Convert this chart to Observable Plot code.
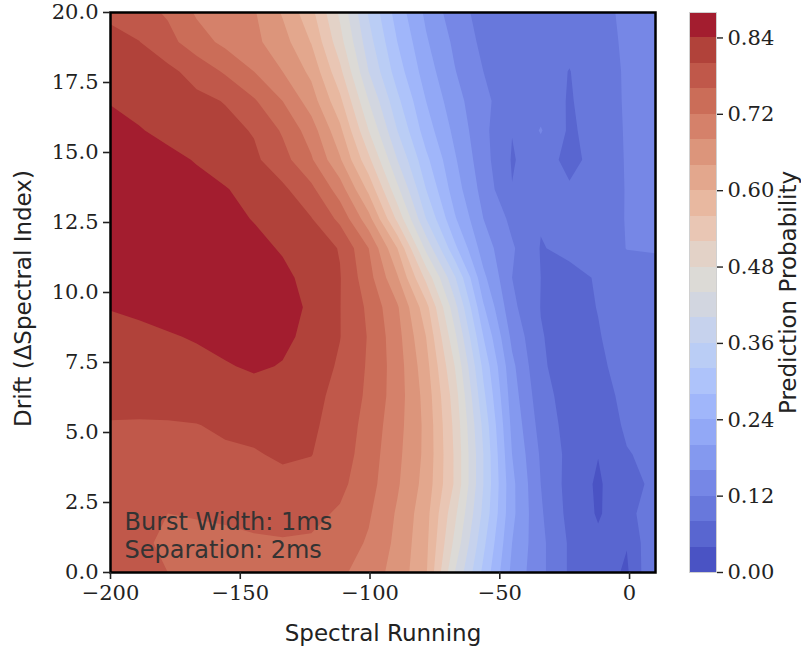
<!DOCTYPE html>
<html>
<head>
<meta charset="utf-8">
<script src="https://cdn.jsdelivr.net/npm/d3@7"></script>
<script src="https://cdn.jsdelivr.net/npm/@observablehq/plot@0.6"></script>
<style>
  html, body { margin: 0; padding: 0; background: #ffffff; }
  #wrap { position: relative; width: 801px; height: 650px; overflow: hidden; background: #fff; }
  #main { position: absolute; left: 0; top: 0; }
  #cbar { position: absolute; left: 670px; top: 0; }
</style>
</head>
<body>
<div id="wrap"><div id="main"></div><div id="cbar"></div></div>
<script>
// ---- grid axes (Spectral Running, Drift) ----
const spectralRunning = [-200, -188.95, -177.89, -166.84, -155.79, -144.74, -133.68, -122.63, -111.58, -100.53,
  -89.47, -78.42, -67.37, -56.32, -45.26, -34.21, -23.16, -12.11, -1.05, 10];
const drift = [0, 1.05, 2.11, 3.16, 4.21, 5.26, 6.32, 7.37, 8.42, 9.47,
  10.53, 11.58, 12.63, 13.68, 14.74, 15.79, 16.84, 17.89, 18.95, 20];

// ---- prediction probability, one row per drift value (bottom row first) ----
const prob = [
  [0.775,0.770,0.760,0.745,0.740,0.742,0.745,0.740,0.728,0.700,0.665,0.605,0.440,0.310,0.190,0.130,0.075,0.060,0.034,0.125],
  [0.772,0.765,0.755,0.752,0.752,0.755,0.757,0.755,0.742,0.715,0.670,0.610,0.470,0.330,0.200,0.130,0.075,0.048,0.042,0.120],
  [0.770,0.765,0.760,0.762,0.765,0.770,0.772,0.770,0.755,0.725,0.675,0.615,0.490,0.350,0.210,0.125,0.068,0.036,0.065,0.110],
  [0.775,0.772,0.772,0.775,0.780,0.785,0.790,0.785,0.770,0.735,0.685,0.625,0.515,0.360,0.210,0.120,0.065,0.034,0.072,0.085],
  [0.785,0.785,0.787,0.790,0.795,0.797,0.805,0.801,0.780,0.740,0.690,0.630,0.515,0.360,0.200,0.115,0.068,0.041,0.078,0.088],
  [0.798,0.797,0.797,0.799,0.805,0.810,0.813,0.806,0.785,0.745,0.695,0.630,0.510,0.350,0.190,0.105,0.065,0.060,0.085,0.092],
  [0.810,0.812,0.815,0.818,0.822,0.825,0.822,0.810,0.790,0.752,0.700,0.625,0.500,0.330,0.180,0.095,0.063,0.068,0.088,0.095],
  [0.815,0.818,0.822,0.830,0.837,0.845,0.838,0.820,0.795,0.755,0.700,0.615,0.480,0.310,0.170,0.085,0.064,0.074,0.092,0.098],
  [0.825,0.830,0.837,0.843,0.852,0.858,0.848,0.830,0.801,0.757,0.695,0.600,0.450,0.280,0.150,0.082,0.066,0.078,0.095,0.100],
  [0.842,0.848,0.853,0.858,0.862,0.862,0.852,0.835,0.801,0.752,0.685,0.575,0.415,0.245,0.130,0.079,0.068,0.081,0.098,0.103],
  [0.875,0.875,0.874,0.872,0.868,0.862,0.850,0.826,0.802,0.735,0.645,0.510,0.365,0.210,0.120,0.080,0.070,0.083,0.100,0.105],
  [0.875,0.873,0.870,0.866,0.860,0.852,0.836,0.818,0.798,0.720,0.600,0.430,0.290,0.180,0.125,0.078,0.088,0.098,0.121,0.123],
  [0.873,0.870,0.865,0.860,0.852,0.838,0.822,0.802,0.750,0.655,0.510,0.360,0.245,0.160,0.110,0.083,0.092,0.100,0.122,0.125],
  [0.870,0.865,0.858,0.850,0.842,0.828,0.808,0.770,0.700,0.590,0.450,0.320,0.220,0.145,0.081,0.100,0.085,0.098,0.122,0.127],
  [0.862,0.857,0.848,0.838,0.825,0.808,0.775,0.725,0.645,0.530,0.400,0.290,0.205,0.135,0.077,0.100,0.068,0.095,0.123,0.128],
  [0.852,0.842,0.832,0.822,0.812,0.797,0.755,0.700,0.610,0.480,0.360,0.260,0.190,0.130,0.081,0.123,0.074,0.095,0.124,0.130],
  [0.838,0.830,0.820,0.810,0.798,0.765,0.720,0.660,0.570,0.440,0.330,0.240,0.175,0.130,0.095,0.100,0.077,0.097,0.125,0.130],
  [0.830,0.820,0.810,0.785,0.755,0.720,0.680,0.630,0.530,0.400,0.300,0.220,0.162,0.120,0.100,0.095,0.079,0.100,0.125,0.130],
  [0.815,0.801,0.773,0.738,0.710,0.690,0.656,0.598,0.495,0.376,0.280,0.205,0.152,0.110,0.100,0.098,0.088,0.103,0.127,0.133],
  [0.790,0.775,0.755,0.715,0.700,0.684,0.636,0.572,0.472,0.356,0.262,0.192,0.138,0.105,0.100,0.100,0.098,0.105,0.130,0.135]
];

// ---- contour levels / colorbar edges and tick labels ----
const levels = [0.00,0.04,0.08,0.12,0.16,0.20,0.24,0.28,0.32,0.36,0.40,0.44,0.48,0.52,0.56,0.60,0.64,0.68,0.72,0.76,0.80,0.84,0.88];
const cbTicks = [0.00,0.12,0.24,0.36,0.48,0.60,0.72,0.84];
const xTicks = [-200,-150,-100,-50,0];
const yTicks = [0,2.5,5,7.5,10,12.5,15,17.5,20];
const annotation = ["Burst Width: 1ms", "Separation: 2ms"];

// ---- styles ----
const palette = ["#4a53c4","#5966d0","#6878dc","#7687e6","#8499ef","#92a8f6","#a0b6fa","#aec3fa",
  "#bacdf5","#c6d2ed","#d2d6e0","#dcdad6","#e3d2c7","#e9c6b4","#e8b8a0","#e3a78d",
  "#dc957b","#d5816a","#cb6d58","#c0584a","#b1423a","#a31d2f"];
const serif = "'DejaVu Serif', serif";
const sans = "'DejaVu Sans', sans-serif";

const nx = spectralRunning.length, ny = drift.length;
const hx = (spectralRunning[nx - 1] - spectralRunning[0]) / (nx - 1) / 2;
const hy = (drift[ny - 1] - drift[0]) / (ny - 1) / 2;
const values = prob.flat();

const colorOpts = {type: "threshold", domain: levels.slice(1, -1), range: palette};
const minus = d => (d < 0 ? "\u2212" + Math.abs(d) : String(d));

const main = Plot.plot({
  width: 670, height: 650,
  marginLeft: 110, marginRight: 15, marginTop: 12, marginBottom: 78,
  x: {domain: [-200, 10]},
  y: {domain: [0, 20]},
  color: colorOpts,
  style: {fontFamily: serif, fontSize: "21px", color: "#222", background: "transparent"},
  marks: [
    Plot.contour(values, {
      width: nx, height: ny,
      x1: spectralRunning[0] - hx, x2: spectralRunning[nx - 1] + hx,
      y1: drift[0] - hy, y2: drift[ny - 1] + hy,
      thresholds: levels, fill: Plot.identity, stroke: "none", clip: true
    }),
    Plot.frame({stroke: "#000", strokeWidth: 2.5}),
    Plot.axisX({ticks: xTicks, tickFormat: minus, tickSize: 7, tickPadding: 6, strokeWidth: 1.6,
      label: null, fontSize: 21, fontFamily: serif}),
    Plot.axisY({ticks: yTicks, tickFormat: d => d.toFixed(1), tickSize: 7, tickPadding: 5, strokeWidth: 1.6,
      label: null, fontSize: 21, fontFamily: serif}),
    Plot.text(["Spectral Running"], {text: d => d, frameAnchor: "bottom", textAnchor: "middle", lineAnchor: "bottom", dy: 68,
      fontFamily: sans, fontSize: 23, fill: "#222"}),
    Plot.text(["Drift (\u0394Spectral Index)"], {text: d => d, frameAnchor: "left", textAnchor: "middle", lineAnchor: "bottom",
      rotate: -90, dx: -80, dy: 6, fontFamily: sans, fontSize: 23, fill: "#222"}),
    Plot.text([annotation.join("\n")], {text: d => d, frameAnchor: "bottom-left", textAnchor: "start",
      lineAnchor: "bottom", lineHeight: 1.13, dx: 14, dy: -15, fontFamily: sans, fontSize: 24, fill: "#333"})
  ]
});
document.getElementById("main").appendChild(main);

const bands = levels.slice(0, -1).map((lo, i) => ({lo, hi: levels[i + 1]}));
const cbar = Plot.plot({
  width: 131, height: 650,
  marginLeft: 19, marginRight: 85, marginTop: 12, marginBottom: 78,
  x: {domain: [0, 1], axis: null},
  y: {domain: [levels[0], levels[levels.length - 1]]},
  color: colorOpts,
  style: {fontFamily: serif, fontSize: "21px", color: "#222", background: "transparent"},
  marks: [
    Plot.rect(bands, {x1: 0, x2: 1, y1: "lo", y2: "hi", fill: "lo", shapeRendering: "crispEdges"}),
    Plot.frame({stroke: "#d0d0d0", strokeWidth: 1}),
    Plot.axisY({anchor: "right", ticks: cbTicks, tickFormat: d => d.toFixed(2), tickSize: 6, tickPadding: 5,
      strokeWidth: 1.4, label: null, fontSize: 21, fontFamily: serif}),
    Plot.text(["Prediction Probability"], {text: d => d, frameAnchor: "right", textAnchor: "middle", lineAnchor: "bottom",
      rotate: -90, dx: 79, fontFamily: sans, fontSize: 23, fill: "#222"})
  ]
});
document.getElementById("cbar").appendChild(cbar);
</script>
</body>
</html>
